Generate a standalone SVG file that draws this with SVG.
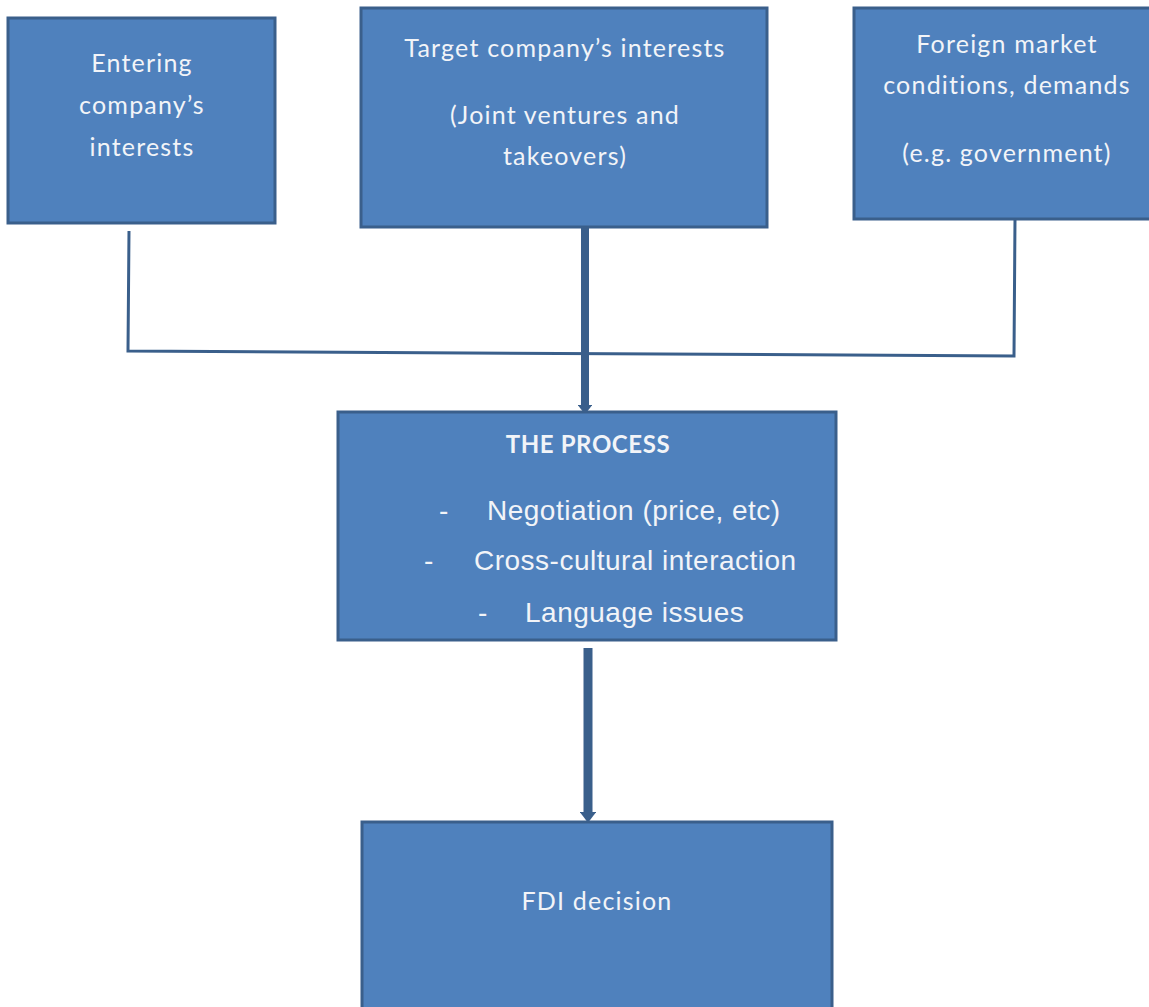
<svg xmlns="http://www.w3.org/2000/svg" width="1149" height="1007" viewBox="0 0 1149 1007">
<style>
.box{fill:#4F81BD;stroke:#3A5F8B;stroke-width:3}
.t{font-family:Lato,"Open Sans","Liberation Sans",sans-serif;font-size:25px;letter-spacing:1.2px;fill:#F2F4F8;text-anchor:middle}
.b{font-weight:bold;font-size:24px;letter-spacing:0.6px}
.a{font-family:"Liberation Sans",Arial,sans-serif;font-size:28px;letter-spacing:0.5px;fill:#F2F4F8}
.c{stroke:#3A5F8B;fill:none}
</style>
<defs>
<marker id="ah" viewBox="0 0 12 18" markerWidth="1.2" markerHeight="1.8" refX="0" refY="9" orient="auto" markerUnits="strokeWidth">
<path d="M0,0 L12,9 L0,18 Z" fill="#3A5F8B"/>
</marker>
</defs>
<rect width="1149" height="1007" fill="#FFFFFF"/>
<g id="connectors">
<polyline class="c" stroke-width="3" points="129,231 128,351 1014,356 1015,219"/>
<line class="c" x1="585" y1="228" x2="585" y2="405" stroke-width="8" marker-end="url(#ah)"/>
<line class="c" x1="588" y1="648" x2="588" y2="812" stroke-width="9" marker-end="url(#ah)"/>
</g>
<g id="entering">
<rect class="box" x="8" y="18" width="267" height="205"/>
<text class="t" x="142" y="72">Entering</text>
<text class="t" x="142" y="114">company’s</text>
<text class="t" x="142" y="156">interests</text>
</g>
<g id="target">
<rect class="box" x="361" y="8" width="406" height="219"/>
<text class="t" x="565" y="57">Target company’s interests</text>
<text class="t" x="565" y="124">(Joint ventures and</text>
<text class="t" x="565" y="165">takeovers)</text>
</g>
<g id="foreign">
<rect class="box" x="854" y="8" width="300" height="211"/>
<text class="t" x="1007" y="53">Foreign market</text>
<text class="t" x="1007" y="94">conditions, demands</text>
<text class="t" x="1007" y="162">(e.g. government)</text>
</g>
<g id="process">
<rect class="box" x="338" y="412" width="498" height="228"/>
<text class="t b" x="588" y="453">THE PROCESS</text>
<text class="a" x="439" y="520">-</text>
<text class="a" x="487" y="520">Negotiation (price, etc)</text>
<text class="a" x="424" y="570">-</text>
<text class="a" x="474" y="570">Cross-cultural interaction</text>
<text class="a" x="478" y="622">-</text>
<text class="a" x="525" y="622">Language issues</text>
</g>
<g id="fdi">
<rect class="box" x="362" y="822" width="470" height="195"/>
<text class="t" x="597" y="910">FDI decision</text>
</g>
</svg>
